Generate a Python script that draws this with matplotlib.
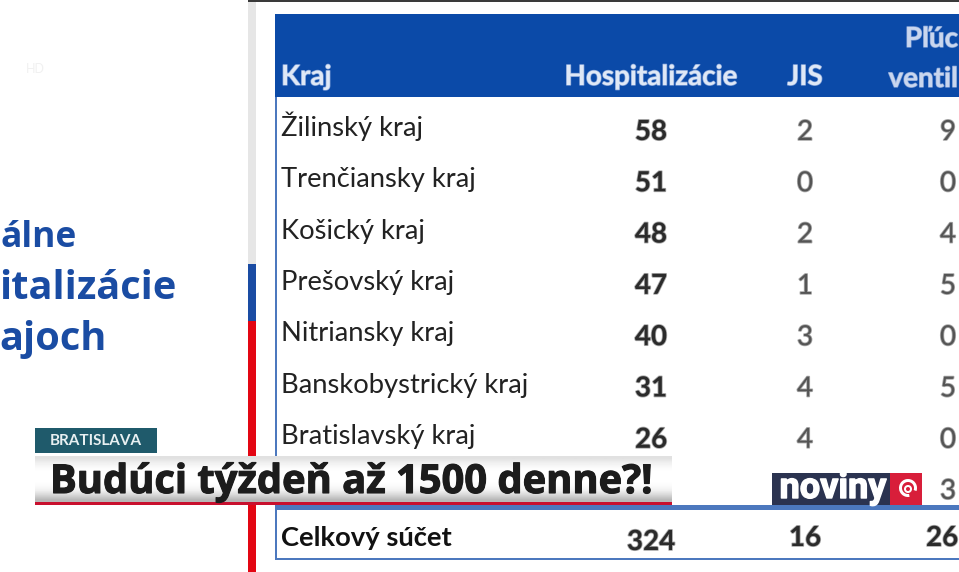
import numpy as np
import matplotlib
matplotlib.use('Agg')
import matplotlib.pyplot as plt
import matplotlib.patheffects as pe
from matplotlib.patches import Rectangle, Wedge

plt.rcParams['font.family'] = ['Lato', 'DejaVu Sans']

# table values
regions = ['Žilinský kraj', 'Trenčiansky kraj', 'Košický kraj', 'Prešovský kraj',
           'Nitriansky kraj', 'Banskobystrický kraj', 'Bratislavský kraj']
hospital = [58, 51, 48, 47, 40, 31, 26]
icu = [2, 0, 2, 1, 3, 4, 4]
ventilated = [9, 0, 4, 5, 0, 5, 0]
hidden_row_ventilated = 3
total_label = 'Celkový súčet'
totals = [324, 16, 26]
headers = ['Kraj', 'Hospitalizácie', 'JIS']
header_cut = ['Pľúc', 'ventil']
side_title = ['álne', 'italizácie', 'ajoch']

BLUE = '#0B4AA8'
LINE = '#4C78BE'
DARK = '#2b2b2b'
ghost = [pe.withStroke(linewidth=1.2, foreground='#aaaaaa')]
head_ghost = [pe.withStroke(linewidth=1.0, foreground='#7f9fd6')]

fig = plt.figure(figsize=(9.59, 5.72), dpi=100)
ax = fig.add_axes([0, 0, 1, 1])
ax.set_xlim(0, 959)
ax.set_ylim(572, 0)
ax.axis('off')


def box(x0, y0, x1, y1, color, z=1):
    ax.add_patch(Rectangle((x0, y0), x1 - x0, y1 - y0, facecolor=color, edgecolor='none', zorder=z))


# top edge and the vertical bar
box(248, 0, 959, 2, '#3a3a3a')
box(248, 2, 256, 264, '#E6E6E6')
box(248, 264, 256, 321, '#1A4CA3')
box(248, 321, 256, 572, '#E30613')

# table frame
box(275, 14, 959, 97, BLUE)
box(275, 97, 276.5, 510, LINE)
box(275, 505, 959, 510, LINE)
box(275, 510, 276.5, 559, LINE)
box(275, 558, 959, 559.5, LINE)

# header
for label, x, ha in zip(headers, [281, 651, 805], ['left', 'center', 'center']):
    ax.text(x, 85, label, color='#dfe8f6', fontsize=20, fontweight='bold', va='baseline', ha=ha,
            path_effects=head_ghost)
ax.text(958, 47, header_cut[0], color='#c9d6ee', fontsize=20, fontweight='bold', va='baseline', ha='right',
        path_effects=head_ghost)
ax.text(958, 87, header_cut[1], color='#c9d6ee', fontsize=20, fontweight='bold', va='baseline', ha='right',
        path_effects=head_ghost)

# body rows
for i, name in enumerate(regions):
    y = 136 + i * 51.3
    ax.text(281, y, name, color='#222222', fontsize=19.7, va='baseline')
    ax.text(651, y + 4, str(hospital[i]), color=DARK, fontsize=20, fontweight='bold', va='baseline', ha='center',
            path_effects=ghost)
    ax.text(805, y + 4, str(icu[i]), color='#555555', fontsize=20, va='baseline', ha='center', path_effects=ghost)
    ax.text(948, y + 4, str(ventilated[i]), color='#555555', fontsize=20, va='baseline', ha='center',
            path_effects=ghost)
ax.text(948, 499, str(hidden_row_ventilated), color='#555555', fontsize=20, va='baseline', ha='center',
        path_effects=ghost)

# totals
ax.text(281, 546, total_label, color='#111111', fontsize=19.7, fontweight='bold', va='baseline')
ax.text(651, 550, str(totals[0]), color=DARK, fontsize=20, fontweight='bold', va='baseline', ha='center',
        path_effects=ghost)
ax.text(805, 546, str(totals[1]), color=DARK, fontsize=20, fontweight='bold', va='baseline', ha='center',
        path_effects=ghost)
ax.text(958, 546, str(totals[2]), color=DARK, fontsize=20, fontweight='bold', va='baseline', ha='right',
        path_effects=ghost)

# side title
for label, right, y, size in zip(side_title, [77, 177, 107], [247, 299, 350], [25.5, 28.6, 28.6]):
    ax.text(right, y, label, color='#1A4CA3', fontsize=size, fontweight='bold', va='baseline', ha='right',
            family='Open Sans')
ax.text(35, 69, 'HD', color='#f1f1f1', fontsize=9, va='center', ha='center')

# lower third
grad = np.array([0.88, 0.94, 0.98, 1, 1, 1, 0.98, 0.94, 0.84, 0.72]).reshape(-1, 1)
ax.imshow(grad, extent=(35, 672, 502, 456), cmap='gray', vmin=0, vmax=1, aspect='auto', zorder=3,
          interpolation='bilinear')
ax.set_xlim(0, 959)
ax.set_ylim(572, 0)
box(35, 502, 672, 505, '#C8102E', 4)
box(35, 428, 157, 453, '#1F5A6B', 4)
ax.text(96, 441, 'BRATISLAVA', color='#e8f0f2', fontsize=11, fontweight='bold', va='center', ha='center', zorder=5)
ax.text(50, 493, 'Budúci týždeň až 1500 denne?!', color='#1c1c1c', fontsize=28.7, fontweight='bold',
        family='Open Sans', va='baseline', zorder=5,
        path_effects=[pe.withStroke(linewidth=0.8, foreground='#1c1c1c')])

# logo
box(772, 473, 890, 505, '#2B3350', 4)
box(890, 473, 922, 505, '#D81E3A', 4)
ax.text(833, 488, 'noviny', color='white', fontsize=26, fontweight='bold', family='Roboto', va='center', ha='center',
        zorder=5, path_effects=[pe.withStroke(linewidth=1.0, foreground='white')])
ax.add_patch(Wedge((908, 488), 9, 80, 20, width=3, facecolor='white', edgecolor='none', zorder=5))
ax.add_patch(Wedge((908, 489), 4, 0, 360, width=2, facecolor='white', edgecolor='none', zorder=5))

fig.savefig('out.png', dpi=100)
